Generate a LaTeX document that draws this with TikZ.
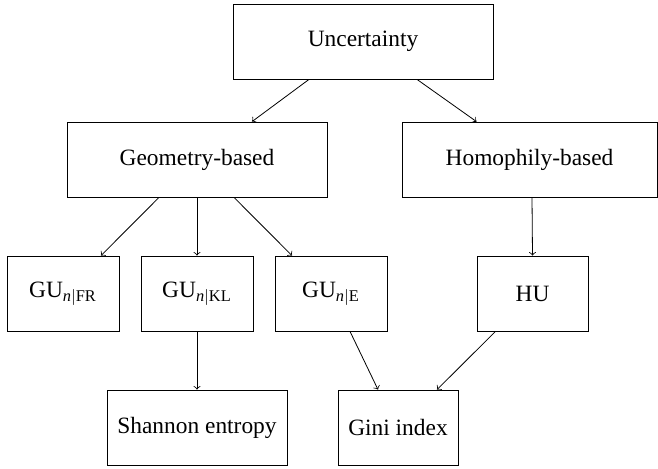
\documentclass[tikz,border=0pt]{standalone}
\usepackage{amsmath}
\usepackage{fontspec}
\setmainfont{Liberation Serif}

\begin{document}
\begin{tikzpicture}[x=0.5pt, y=-0.5pt,
  box/.style={draw, minimum height=37.5pt, inner sep=0pt, font=\fontsize{11.7}{14}\selectfont}]
  \useasboundingbox (0,0) rectangle (658,468);
  \node[box, minimum width=130pt] (unc) at (363,41.5) {Uncertainty};
  \node[box, minimum width=130pt] (geo) at (197,159.5) {Geometry-based};
  \node[box, minimum width=127.5pt] (hom) at (529.5,159.5) {Homophily-based};
  \node[box, minimum width=56pt] (fr) at (63,293.5) {GU$_{\textit{n}|\mathrm{FR}}$};
  \node[box, minimum width=56pt] (kl) at (197,293.5) {GU$_{\textit{n}|\mathrm{KL}}$};
  \node[box, minimum width=56pt] (gue) at (331,293.5) {GU$_{\textit{n}|\mathrm{E}}$};
  \node[box, minimum width=55.5pt] (hu) at (532.5,293.5) {HU};
  \node[box, minimum width=90pt] (shannon) at (197,427.5) {Shannon entropy};
  \node[box, minimum width=60pt] (gini) at (398,427.5) {Gini index};
  \draw[->] ([xshift=-27pt]unc.south) -- ([xshift=27.5pt]geo.north);
  \draw[->] ([xshift=27pt]unc.south) -- ([xshift=-26.5pt]hom.north);
  \draw[->] ([xshift=-19pt]geo.south) -- ([xshift=19pt]fr.north);
  \draw[->] (geo.south) -- (kl.north);
  \draw[->] ([xshift=18.5pt]geo.south) -- ([xshift=-19.5pt]gue.north);
  \draw[->] ([xshift=1.25pt]hom.south) -- (hu.north);
  \draw[->] (kl.south) -- (shannon.north);
  \draw[->] ([xshift=9.5pt]gue.south) -- ([xshift=-10pt]gini.north);
  \draw[->] ([xshift=-18.5pt]hu.south) -- ([xshift=19.5pt]gini.north);
\end{tikzpicture}
\end{document}
